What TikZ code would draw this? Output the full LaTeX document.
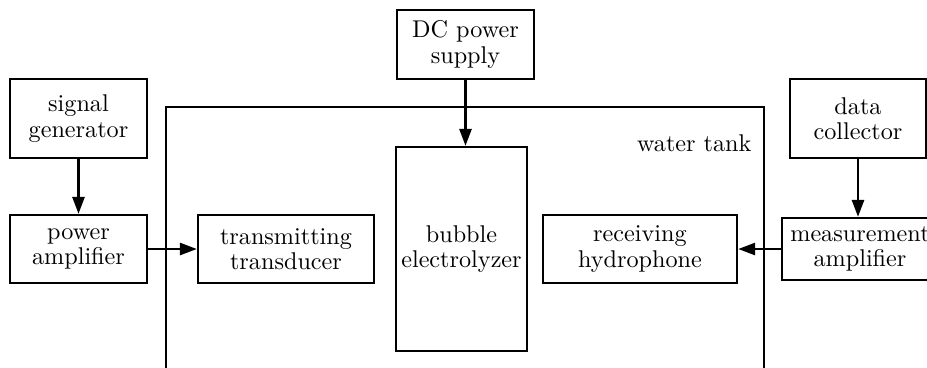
\documentclass[tikz,border=0pt]{standalone}
\usetikzlibrary{arrows.meta}
\begin{document}
\begin{tikzpicture}[x=0.4132pt,y=-0.4132pt,
  block/.style={draw,line width=1pt,align=center,inner sep=2pt,
    font=\fontsize{10pt}{10.5pt}\selectfont},
  link/.style={line width=1pt,-{Triangle[length=7pt,width=5pt]}}]
\useasboundingbox (0,0) rectangle (927,367);
\clip (0,0) rectangle (927,367);

% water tank
\draw[line width=1pt] (166,400) -- (166,107) -- (764,107) -- (764,400);
\node[anchor=east,font=\fontsize{10pt}{10.5pt}\selectfont] (tanklabel) at (760,143) {water tank};

\node[block,minimum width=56.6pt,minimum height=32.6pt] (siggen) at (78.5,118.5) {signal\\generator};
\node[block,minimum width=56.6pt,minimum height=28.1pt] (poweramp) at (78.5,249) {power\\amplifier};
\node[block,minimum width=72.7pt,minimum height=28.1pt] (transducer) at (286,249) {transmitting\\transducer};
\node[block,minimum width=56.6pt,minimum height=28.5pt] (dcsupply) at (465.5,44.5) {DC power\\supply};
\node[block,minimum width=54.1pt,minimum height=84.3pt] (electrolyzer) at (461.5,249) {bubble\\electrolyzer};
\node[block,minimum width=80.2pt,minimum height=28.1pt] (hydrophone) at (640,249) {receiving\\hydrophone};
\node[block,minimum width=56.2pt,minimum height=32.6pt] (collector) at (858,118.5) {data\\collector};
\node[block,minimum width=64.5pt,minimum height=25.6pt] (measamp) at (860,249) {measurement\\amplifier};

\draw[link] (siggen) -- (poweramp);
\draw[link] (poweramp) -- (transducer);
\draw[link] (dcsupply) -- (dcsupply |- electrolyzer.north);
\draw[link] (collector) -- (collector |- measamp.north);
\draw[link] (measamp) -- (hydrophone);
\end{tikzpicture}
\end{document}
